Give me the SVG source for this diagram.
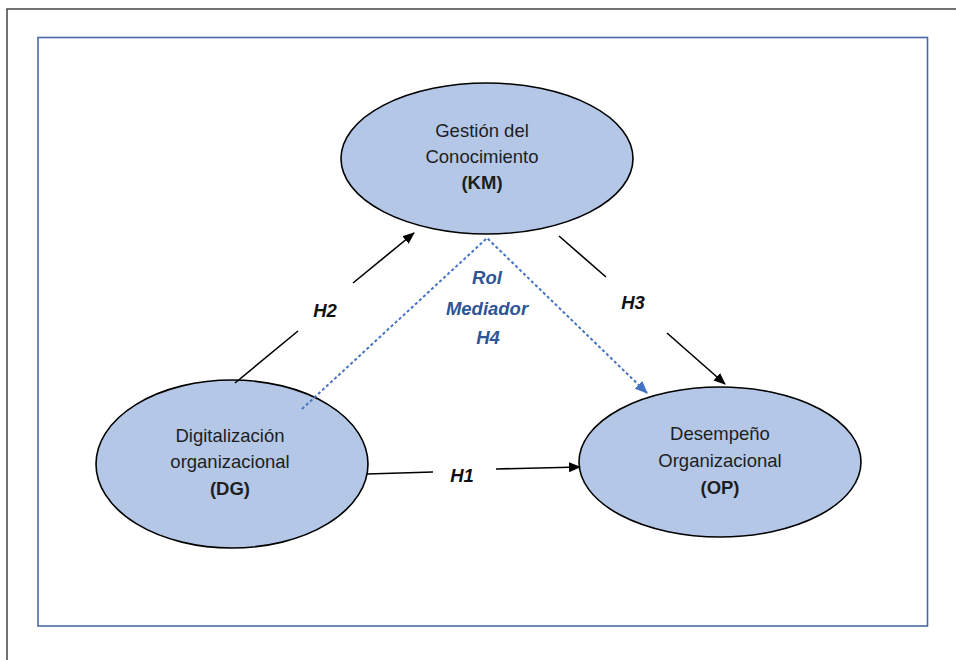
<svg xmlns="http://www.w3.org/2000/svg" width="956" height="660" viewBox="0 0 956 660">
  <style>
    .node { fill: #B4C7E7; stroke: #000; stroke-width: 1.6; }
    .lbl { font-family: "Liberation Sans", Arial, sans-serif; font-size: 18.5px; fill: #1e1e1e; text-anchor: middle; }
    .b { font-weight: bold; }
    .hyp { font-family: "Liberation Sans", Arial, sans-serif; font-size: 18.5px; font-weight: bold; font-style: italic; fill: #111; text-anchor: middle; }
    .med { fill: #2F5597; }
    .edge { stroke: #000; stroke-width: 1.6; fill: none; }
    .dot { stroke: #4472C4; stroke-width: 2; stroke-dasharray: 3 2.5; fill: none; }
  </style>
  <defs>
    <marker id="arrow" viewBox="0 0 12 10" refX="11" refY="5" markerWidth="12" markerHeight="10" markerUnits="userSpaceOnUse" orient="auto">
      <path d="M0,0 L12,5 L0,10 z" fill="#000"/>
    </marker>
    <marker id="arrowBlue" viewBox="0 0 12 10" refX="11" refY="5" markerWidth="13" markerHeight="11" markerUnits="userSpaceOnUse" orient="auto">
      <path d="M0,0 L12,5 L0,10 z" fill="#4472C4"/>
    </marker>
  </defs>

  <rect width="956" height="660" fill="#fff"/>
  <!-- outer frame -->
  <rect x="7" y="9" width="1000" height="700" fill="none" stroke="#444" stroke-width="1.5"/>
  <!-- inner panel -->
  <rect x="38" y="37.5" width="889.5" height="588.5" fill="none" stroke="#4A6AA5" stroke-width="1.6"/>

  <g id="km">
    <ellipse class="node" cx="487" cy="158.5" rx="146" ry="75.5"/>
    <text class="lbl" x="482" y="137">Gestión del</text>
    <text class="lbl" x="482" y="163">Conocimiento</text>
    <text class="lbl b" x="482" y="189">(KM)</text>
  </g>

  <g id="dg">
    <ellipse class="node" cx="232" cy="464" rx="136" ry="84"/>
    <text class="lbl" x="230" y="442">Digitalización</text>
    <text class="lbl" x="230" y="468">organizacional</text>
    <text class="lbl b" x="230" y="495">(DG)</text>
  </g>

  <g id="op">
    <ellipse class="node" cx="720" cy="462" rx="141" ry="75"/>
    <text class="lbl" x="720" y="440">Desempeño</text>
    <text class="lbl" x="720" y="467">Organizacional</text>
    <text class="lbl b" x="720" y="494">(OP)</text>
  </g>

  <g id="connectors">
    <!-- H2 -->
    <line class="edge" x1="235" y1="383" x2="298" y2="331"/>
    <line class="edge" x1="353" y1="283" x2="414" y2="233" marker-end="url(#arrow)"/>
    <!-- H3 -->
    <line class="edge" x1="559" y1="236" x2="606" y2="277"/>
    <line class="edge" x1="667" y1="333" x2="725" y2="384" marker-end="url(#arrow)"/>
    <!-- H1 -->
    <line class="edge" x1="367" y1="474" x2="433" y2="472"/>
    <line class="edge" x1="496" y1="469" x2="580" y2="467" marker-end="url(#arrow)"/>
    <!-- H4 mediating path -->
    <polyline class="dot" points="302,409 487,238 647,393" marker-end="url(#arrowBlue)"/>
  </g>

  <g id="labels">
    <text class="hyp" x="325" y="317">H2</text>
    <text class="hyp" x="633" y="309">H3</text>
    <text class="hyp" x="462" y="482">H1</text>
    <text class="hyp med" x="487" y="284">Rol</text>
    <text class="hyp med" x="487" y="315">Mediador</text>
    <text class="hyp med" x="488" y="344">H4</text>
  </g>
</svg>
